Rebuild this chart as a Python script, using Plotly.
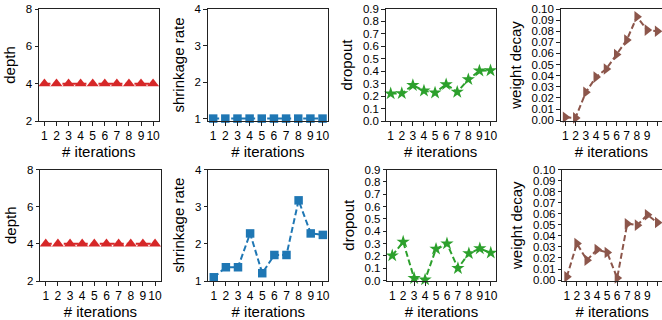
import plotly.graph_objects as go

# ---- data ----
iterations = [1, 2, 3, 4, 5, 6, 7, 8, 9, 10]
iter_labels = ["1", "2", "3", "4", "5", "6", "7", "8", "9", "10"]

depth_top = [4, 4, 4, 4, 4, 4, 4, 4, 4, 4]
shrink_top = [1.0, 1.0, 1.0, 1.0, 1.0, 1.0, 1.0, 1.0, 1.0, 1.0]
dropout_top = [0.22, 0.222, 0.287, 0.243, 0.227, 0.294, 0.233, 0.334, 0.404, 0.406]
wdecay_top = [0.0025, 0.002, 0.025, 0.0387, 0.046, 0.059, 0.072, 0.093, 0.081, 0.080]

depth_bot = [4, 4, 4, 4, 4, 4, 4, 4, 4, 4]
shrink_bot = [1.10, 1.37, 1.37, 2.28, 1.21, 1.70, 1.70, 3.17, 2.28, 2.24]
dropout_bot = [0.203, 0.314, 0.019, 0.008, 0.257, 0.30, 0.10, 0.22, 0.26, 0.225]
wdecay_bot = [0.003, 0.033, 0.018, 0.0276, 0.025, 0.002, 0.051, 0.0497, 0.059, 0.052]

depth_ticks = [2, 4, 6, 8]
shrink_ticks = [1, 2, 3, 4]
dropout_ticks = [0.0, 0.1, 0.2, 0.3, 0.4, 0.5, 0.6, 0.7, 0.8, 0.9]
wdecay_ticks = [0.00, 0.01, 0.02, 0.03, 0.04, 0.05, 0.06, 0.07, 0.08, 0.09, 0.10]

W, H = 662, 320
FONT = "Liberation Sans, Arial, sans-serif"
AX = "#222222"

# panel definitions: (values, ylabel, color, symbol, size, yrange, yticks, fmt)
specs_top = [
    (depth_top, "depth", "#d62728", "triangle-up", 10.5, [2, 8], depth_ticks, "d"),
    (shrink_top, "shrinkage rate", "#1f77b4", "square", 8.5, [0.934, 4], shrink_ticks, "d"),
    (dropout_top, "dropout", "#2ca02c", "star", 10, [0, 0.9], dropout_ticks, ".1f"),
    (wdecay_top, "weight decay", "#8c564b", "triangle-right", 10, [-0.0008, 0.10], wdecay_ticks, ".2f"),
]
specs_bot = [
    (depth_bot, "depth", "#d62728", "triangle-up", 10.5, [2, 8], depth_ticks, "d"),
    (shrink_bot, "shrinkage rate", "#1f77b4", "square", 8.5, [1, 4], shrink_ticks, "d"),
    (dropout_bot, "dropout", "#2ca02c", "star", 10, [-0.003, 0.9], dropout_ticks, ".1f"),
    (wdecay_bot, "weight decay", "#8c564b", "triangle-right", 10, [-0.0008, 0.10], wdecay_ticks, ".2f"),
]

# pixel layout of axes boxes
xdom_top = [(39, 158.5), (207.7, 328), (385.7, 495.5), (560.7, 662)]
xdom_bot = [(40.3, 160.5), (208.3, 328.3), (387.3, 495.7), (562.3, 662)]
ydom_top = (9, 121)
ydom_bot = (169.5, 281)

fig = go.Figure()
layout = {}
idx = 0
for specs, xdoms, ydom in [(specs_top, xdom_top, ydom_top), (specs_bot, xdom_bot, ydom_bot)]:
    for col, (vals, ylab, color, sym, msize, yr, yt, fmt) in enumerate(specs):
        idx += 1
        xa = "x" if idx == 1 else f"x{idx}"
        ya = "y" if idx == 1 else f"y{idx}"
        fig.add_trace(go.Scatter(
            x=iterations, y=vals, xaxis=xa, yaxis=ya,
            mode="lines+markers",
            line=dict(color=color, width=2, dash="6px,3px"),
            marker=dict(symbol=sym, size=msize, color=color, line=dict(width=0)),
            cliponaxis=False, showlegend=False,
        ))
        x0, x1 = xdoms[col]
        xkey = "xaxis" if idx == 1 else f"xaxis{idx}"
        ykey = "yaxis" if idx == 1 else f"yaxis{idx}"
        layout[xkey] = dict(
            domain=[x0 / W, min(x1 / W, 1.0)], anchor=ya, automargin=False,
            range=[0.55, 10.45], tickmode="array", tickvals=iterations, ticktext=iter_labels,
            tickangle=0,
            ticks="outside", ticklen=3.5, tickwidth=1, tickcolor=AX,
            showline=True, linecolor=AX, linewidth=1, mirror=True,
            showgrid=False, zeroline=False,
            tickfont=dict(family=FONT, size=12, color="#000"),
            title=dict(text="# iterations", font=dict(family=FONT, size=15, color="#000"), standoff=4),
        )
        tick_text = [format(v, fmt) if fmt != "d" else str(int(v)) for v in yt]
        layout[ykey] = dict(
            domain=[1 - ydom[1] / H, 1 - ydom[0] / H], anchor=xa, automargin=False,
            range=yr, tickmode="array", tickvals=yt, ticktext=tick_text,
            ticks="outside", ticklen=3.5, tickwidth=1, tickcolor=AX,
            showline=True, linecolor=AX, linewidth=1, mirror=(col != 3),
            showgrid=False, zeroline=False,
            tickfont=dict(family=FONT, size=11.5, color="#000"),
            title=dict(text=ylab, font=dict(family=FONT, size=15, color="#000"), standoff=6),
        )

fig.update_layout(
    width=W, height=H,
    margin=dict(l=0, r=0, t=0, b=0),
    paper_bgcolor="white", plot_bgcolor="white",
    **layout,
)

fig.write_html(
    "out.html",
    config={"displayModeBar": False},
    post_script="document.body.style.margin='0';document.body.style.overflow='hidden';",
)
